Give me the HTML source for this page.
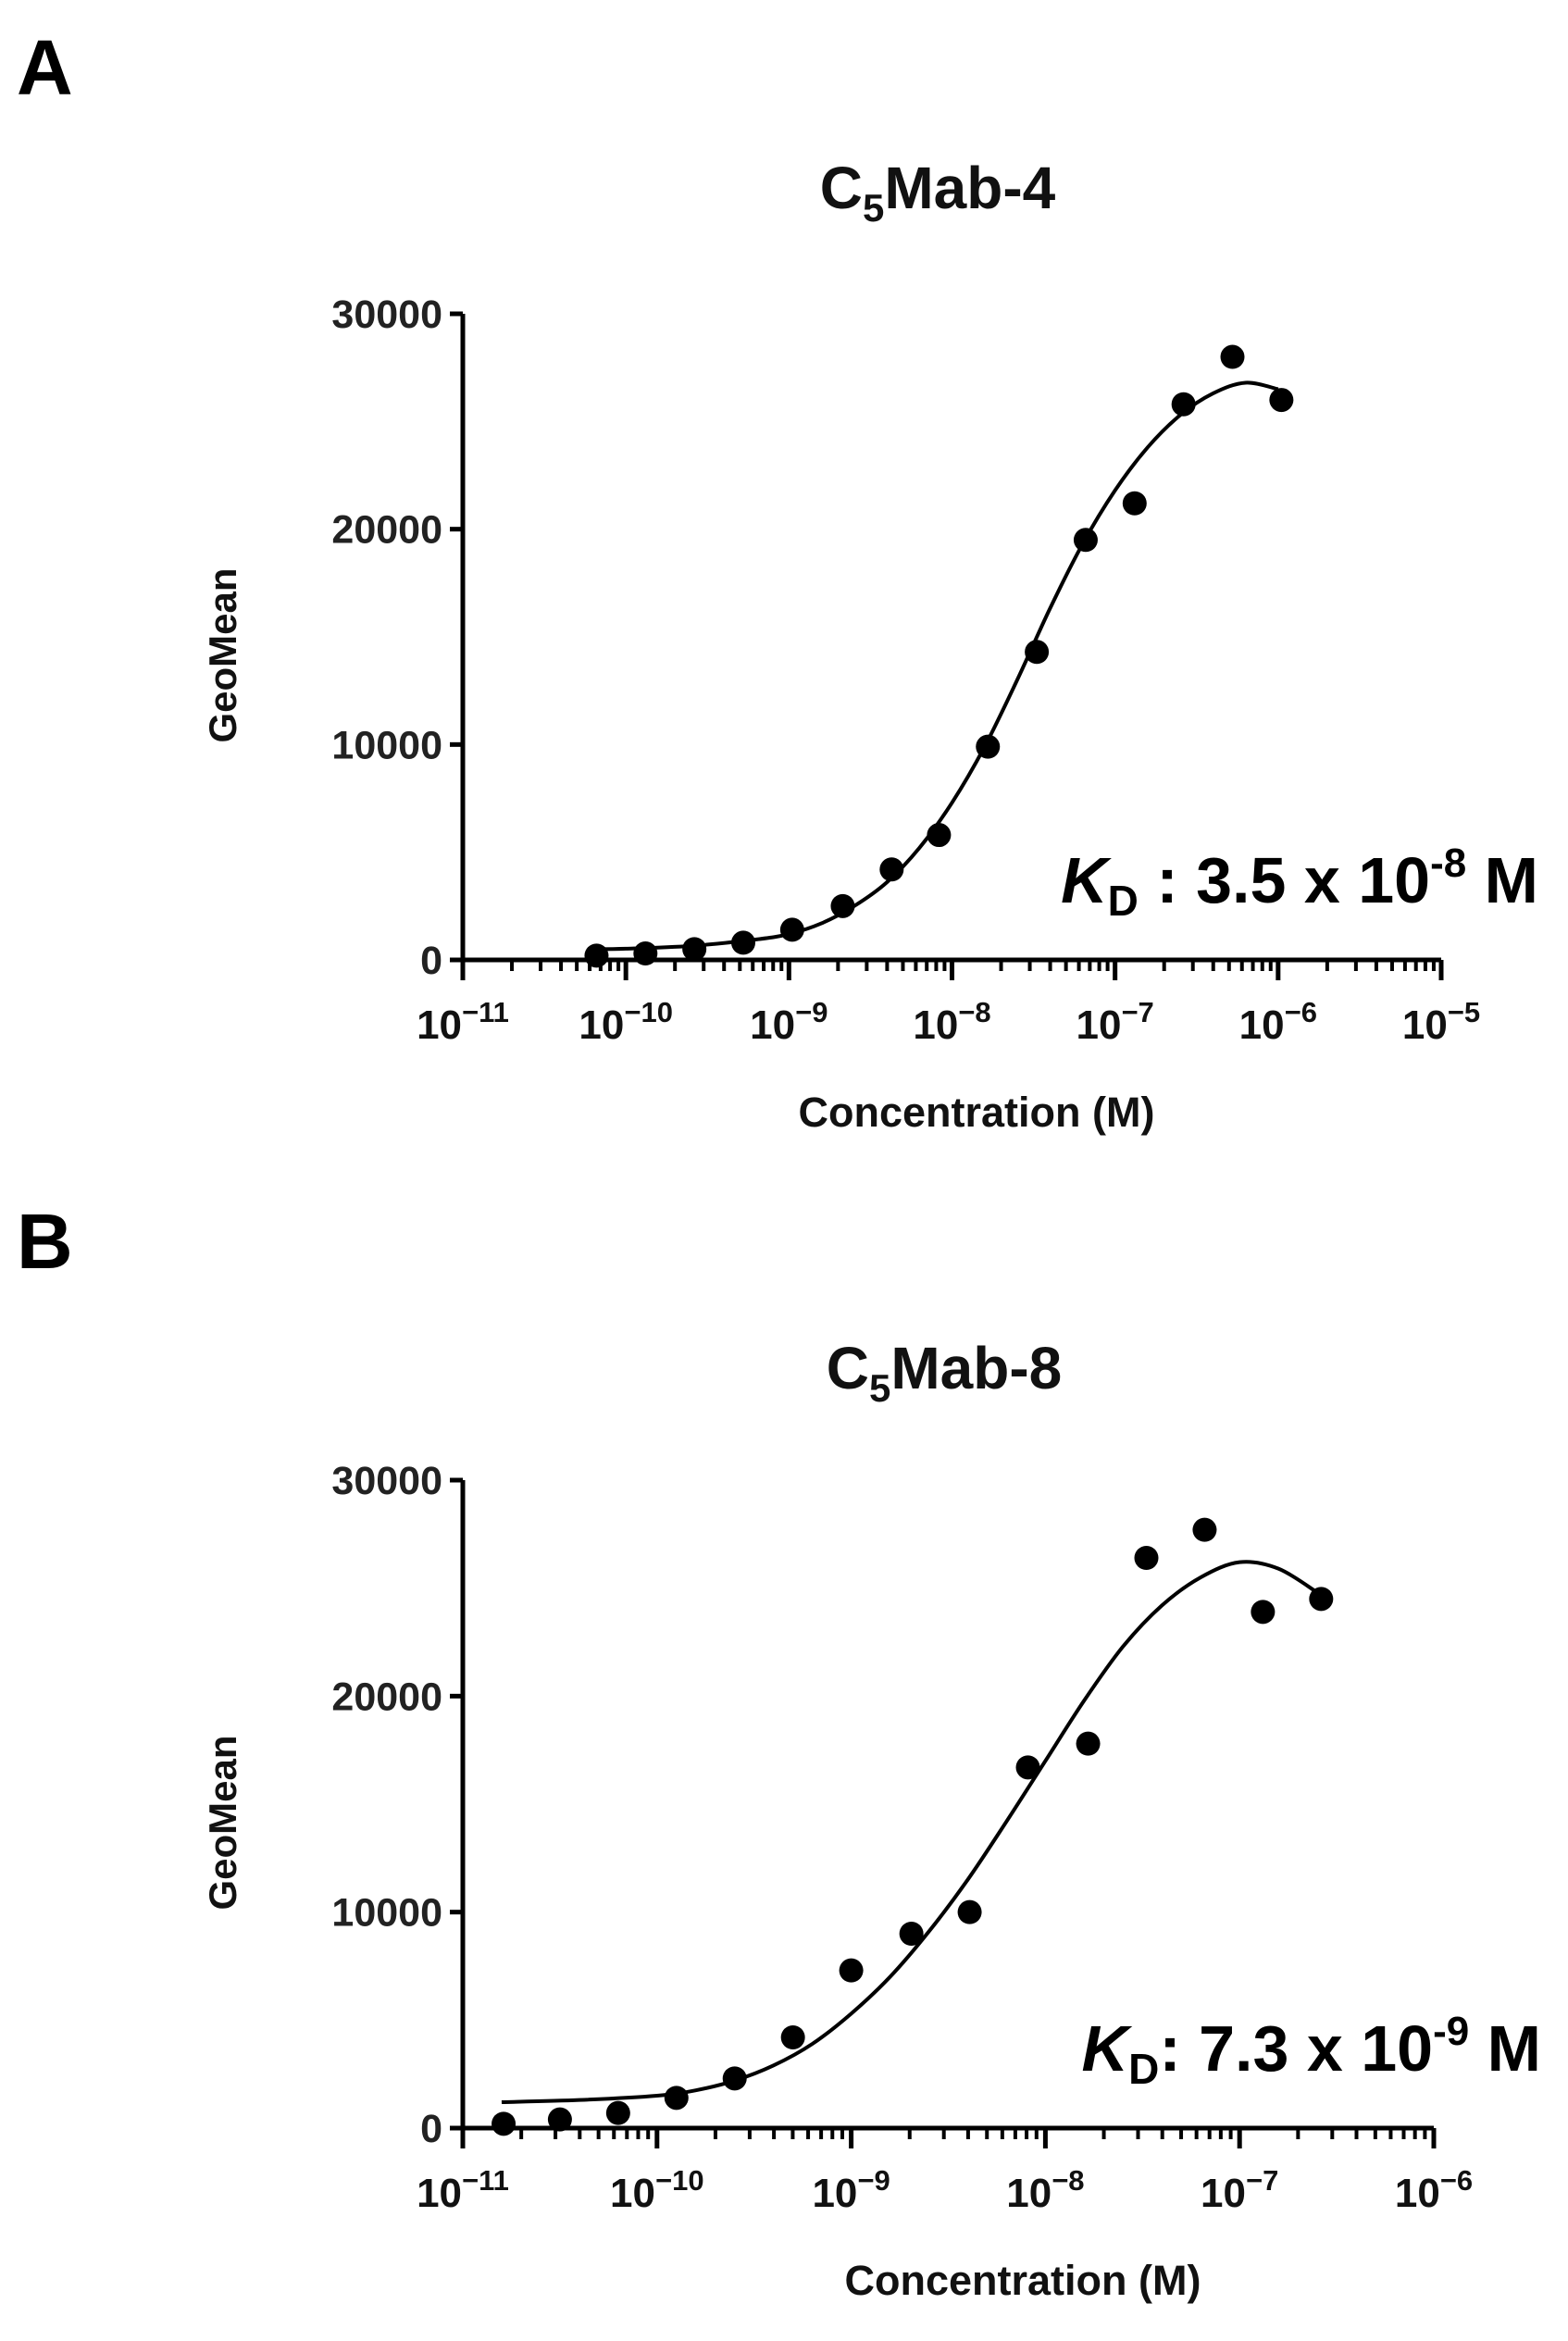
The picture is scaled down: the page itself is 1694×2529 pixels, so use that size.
<!DOCTYPE html>
<html><head><meta charset="utf-8"><style>
body{margin:0;background:#fff;}
svg{display:block;font-family:"Liberation Sans",Arial,sans-serif;font-weight:bold;}
</style></head><body>
<svg id="fig" width="1694" height="2529" viewBox="0 0 1694 2529" xmlns="http://www.w3.org/2000/svg"></svg>
<script>
// Panel A data
const aLogConc = [-10.18,-9.88,-9.58,-9.28,-8.98,-8.67,-8.37,-8.08,-7.78,-7.48,-7.18,-6.88,-6.58,-6.28,-5.98];
const aValues = [200,300,500,800,1400,2500,4200,5800,9900,14300,19500,21200,25800,28000,26000];
const aFitLog = [-10.2,-10,-9.6,-9.2,-9,-8.8,-8.6,-8.4,-8.2,-8,-7.8,-7.6,-7.4,-7.2,-7,-6.8,-6.6,-6.4,-6.2,-6.0];
const aFitVal = [500,520,650,950,1200,1700,2500,3600,5200,7300,9900,13000,16300,19300,21800,23800,25300,26300,26800,26500];
const aTickExp = [-11,-10,-9,-8,-7,-6,-5];
// Panel B data
const bLogConc = [-10.79,-10.5,-10.2,-9.9,-9.6,-9.3,-9.0,-8.69,-8.39,-8.09,-7.78,-7.48,-7.18,-6.88,-6.58];
const bValues = [200,400,700,1400,2300,4200,7300,9000,10000,16700,17800,26400,27700,23900,24500];
const bFitLog = [-10.8,-10.4,-10,-9.8,-9.6,-9.4,-9.2,-9.0,-8.8,-8.6,-8.4,-8.2,-8.0,-7.8,-7.6,-7.4,-7.2,-7.0,-6.8,-6.6];
const bFitVal = [1200,1300,1500,1750,2200,2900,3900,5300,7000,9100,11500,14200,17000,19800,22300,24200,25500,26200,25900,24800];
const bTickExp = [-11,-10,-9,-8,-7,-6];
const yTicks = [0,10000,20000,30000];

const NS="http://www.w3.org/2000/svg";
const svg=document.getElementById('fig');
function el(tag,attrs,parent){const e=document.createElementNS(NS,tag);for(const k in attrs)e.setAttribute(k,attrs[k]);(parent||svg).appendChild(e);return e;}

function panel(cfg){
  const g=el('g',{});
  
  
  const minE=cfg.ticks[0], maxE=cfg.ticks[cfg.ticks.length-1];
  const sx=v=>cfg.x0+(v-minE)/(maxE-minE)*(cfg.x1-cfg.x0);
  const sy=v=>cfg.y0-(v/30000)*(cfg.y0-cfg.yTop);
  const L=el('text',{x:18,y:cfg.letterY,'font-size':84,fill:'#000'},g);L.textContent=cfg.letter;
  
  
  const t=el('text',{x:cfg.titleX,y:cfg.titleY,'text-anchor':'middle','font-size':64,fill:'#111'},g);
  
  
  t.innerHTML='C<tspan font-size="42" dy="14">5</tspan><tspan dy="-14">'+cfg.title+'</tspan>';
  const ax=el('path',{d:`M${cfg.x0},${cfg.yTop} V${cfg.y0} H${cfg.x1}`,stroke:'#000','stroke-width':5,fill:'none'},g);
  
  
  yTicks.forEach(v=>{
    el('line',{x1:cfg.x0-14,x2:cfg.x0,y1:sy(v),y2:sy(v),stroke:'#000','stroke-width':5},g);
    const tl=el('text',{x:cfg.x0-22,y:sy(v)+15,'text-anchor':'end','font-size':43,fill:'#222'},g);
    tl.textContent=v;
    
    
  });
  cfg.ticks.forEach((e,i)=>{
    const x=sx(e);
    el('line',{x1:x,x2:x,y1:cfg.y0,y2:cfg.y0+22,stroke:'#000','stroke-width':5},g);
    if(i<cfg.ticks.length-1){for(let m=2;m<=9;m++){const xm=sx(e+Math.log10(m));el('line',{x1:xm,x2:xm,y1:cfg.y0,y2:cfg.y0+12,stroke:'#000','stroke-width':4},g);}}
    const tl=el('text',{x:x,y:cfg.y0+85,'text-anchor':'middle','font-size':44,fill:'#111'},g);
    tl.innerHTML='10<tspan font-size="31" dy="-18">−'+(-e)+'</tspan>';
    
    
  });
  const xt=el('text',{x:cfg.xTitleX,y:cfg.y0+180,'text-anchor':'middle','font-size':45,fill:'#111'},g);
  xt.textContent='Concentration (M)';
  
  
  const yc=(cfg.y0+cfg.yTop)/2+20;
  const yt=el('text',{x:255,y:yc,'text-anchor':'middle','font-size':42,fill:'#111',transform:`rotate(-90 255 ${yc})`},g);
  yt.textContent='GeoMean';
  
  
  const pts=cfg.fitLog.map((l,i)=>[sx(l),sy(cfg.fitVal[i])]);
  let d=`M${pts[0][0]},${pts[0][1]}`;
  for(let i=0;i<pts.length-1;i++){
    const p0=pts[Math.max(0,i-1)],p1=pts[i],p2=pts[i+1],p3=pts[Math.min(pts.length-1,i+2)];
    d+=` C${p1[0]+(p2[0]-p0[0])/6},${p1[1]+(p2[1]-p0[1])/6} ${p2[0]-(p3[0]-p1[0])/6},${p2[1]-(p3[1]-p1[1])/6} ${p2[0]},${p2[1]}`;
  }
  const c=el('path',{d:d,stroke:'#000','stroke-width':4,fill:'none'},g);
  
  
  cfg.logs.forEach((l,i)=>{
    const p=el('circle',{cx:sx(l),cy:sy(cfg.vals[i]),r:13,fill:'#000'},g);
    
    
  });
  const k=el('text',{x:cfg.kdX,y:cfg.kdY,'text-anchor':'end','font-size':70,fill:'#000'},g);
  k.innerHTML='<tspan font-style="italic">K</tspan><tspan font-size="46" dy="14">D</tspan><tspan dy="-14">'+cfg.kd1+'</tspan><tspan font-size="44" dy="-28">'+cfg.kdExp+'</tspan><tspan dy="28"> M</tspan>';
  
  
}
panel({name:'panel-a',letter:'A',letterY:102,title:'Mab-4',titleX:1013,titleY:225,x0:500,x1:1557,y0:1037,yTop:339,
  ticks:aTickExp,logs:aLogConc,vals:aValues,fitLog:aFitLog,fitVal:aFitVal,xTitleX:1055,kdX:1662,kdY:975,kd1:' : 3.5 x 10',kdExp:'-8'});
panel({name:'panel-b',letter:'B',letterY:1370,title:'Mab-8',titleX:1020,titleY:1500,x0:500,x1:1549,y0:2299,yTop:1599,
  ticks:bTickExp,logs:bLogConc,vals:bValues,fitLog:bFitLog,fitVal:bFitVal,xTitleX:1105,kdX:1665,kdY:2237,kd1:': 7.3 x 10',kdExp:'-9'});
</script>
</body></html>
